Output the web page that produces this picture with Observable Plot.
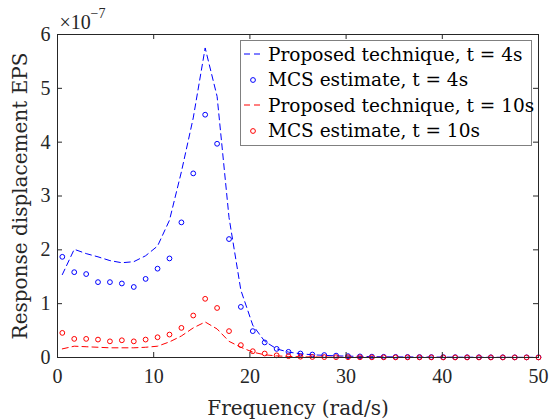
<!DOCTYPE html>
<html><head><meta charset="utf-8">
<script src="https://cdn.jsdelivr.net/npm/d3@7"></script>
<script src="https://cdn.jsdelivr.net/npm/@observablehq/plot@0.6"></script>
<style>
body{margin:0;background:#fff;}
#wrap{position:relative;width:549px;height:420px;}
#legend{position:absolute;left:240px;top:40px;width:292px;height:106px;border:1.5px solid #808080;background:#fff;box-sizing:border-box;}
.row{position:absolute;left:0;height:24px;display:flex;align-items:center;color:#000;white-space:nowrap;}
.row svg{margin-left:2px;margin-right:5px;}
</style></head><body><div id="wrap"><div id="legend"></div></div>
<script>
// Frequency (rad/s)
const freq = [0.5,1.74,2.98,4.21,5.45,6.69,7.93,9.16,10.4,11.64,12.88,14.11,15.35,16.59,17.83,19.06,20.3,21.54,22.78,24.01,25.25,26.49,27.73,28.96,30.2,31.44,32.68,33.91,35.15,36.39,37.63,38.86,40.1,41.34,42.58,43.81,45.05,46.29,47.53,48.76,50];
// values in units of 1e-7
const proposed4 = [1.54,2.01,1.93,1.87,1.80,1.76,1.78,1.89,2.07,2.55,3.45,4.45,5.75,4.85,2.6,1.25,0.6,0.3,0.16,0.1,0.07,0.05,0.04,0.03,0.025,0.02,0.016,0.013,0.011,0.01,0.009,0.008,0.007,0.006,0.005,0.005,0.004,0.004,0.003,0.003,0.003];
const mcs4 = [1.87,1.585,1.55,1.40,1.40,1.375,1.31,1.46,1.65,1.84,2.51,3.42,4.51,3.97,2.20,0.94,0.49,0.28,0.16,0.105,0.074,0.055,0.045,0.035,0.025,0.02,0.016,0.013,0.011,0.01,0.009,0.008,0.007,0.006,0.005,0.005,0.004,0.004,0.003,0.003,0.003];
const proposed10 = [0.16,0.21,0.2,0.19,0.18,0.18,0.18,0.19,0.21,0.29,0.4,0.55,0.66,0.53,0.3,0.19,0.1,0.05,0.03,0.02,0.013,0.01,0.008,0.006,0.005,0.004,0.003,0.003,0.002,0.002,0.002,0.002,0.001,0.001,0.001,0.001,0.001,0.001,0.001,0.001,0.001];
const mcs10 = [0.457,0.346,0.346,0.333,0.30,0.32,0.30,0.333,0.376,0.426,0.55,0.78,1.09,0.92,0.49,0.23,0.117,0.074,0.04,0.025,0.015,0.01,0.008,0.006,0.005,0.004,0.003,0.003,0.002,0.002,0.002,0.002,0.001,0.001,0.001,0.001,0.001,0.001,0.001,0.001,0.001];
const xTicks = [0,10,20,30,40,50];
const yTicks = [0,1,2,3,4,5,6];
const seriesNames = ["Proposed technique, t = 4s","MCS estimate, t = 4s","Proposed technique, t = 10s","MCS estimate, t = 10s"];
const blue = "#0000ff", red = "#ff0000", axisColor = "#262626";
const tickFont = '"Liberation Serif", "Times New Roman", Times, serif';
const labelFont = '"DejaVu Serif"';

const rows = (ys) => freq.map((f,i) => ({f, v: ys[i]}));
const innerH = 420 - 34 - 63;
const innerW = 549 - 57 - 11;

const chart = Plot.plot({
  width: 549, height: 420,
  marginLeft: 57, marginRight: 11, marginTop: 34, marginBottom: 63,
  style: {fontSize: "20px", color: axisColor, background: "white", overflow: "visible"},
  x: {domain: [0, 50]},
  y: {domain: [0, 6]},
  marks: [
    Plot.line(rows(proposed4), {x: "f", y: "v", stroke: blue, strokeWidth: 1, strokeDasharray: "6,4"}),
    Plot.dot(rows(mcs4), {x: "f", y: "v", stroke: blue, r: 2.4, strokeWidth: 1}),
    Plot.line(rows(proposed10), {x: "f", y: "v", stroke: red, strokeWidth: 1, strokeDasharray: "6,4"}),
    Plot.dot(rows(mcs10), {x: "f", y: "v", stroke: red, r: 2.4, strokeWidth: 1}),
    Plot.ruleX(xTicks, {x: d => d, insetTop: innerH - 5, stroke: axisColor}),
    Plot.ruleX(xTicks, {x: d => d, insetBottom: innerH - 5, stroke: axisColor}),
    Plot.ruleY(yTicks, {y: d => d, insetRight: innerW - 5, stroke: axisColor}),
    Plot.ruleY(yTicks, {y: d => d, insetLeft: innerW - 5, stroke: axisColor}),
    Plot.frame({stroke: axisColor, strokeWidth: 1}),
    Plot.axisX(xTicks, {anchor: "bottom", tickSize: 0, tickPadding: 11, tickFormat: d => String(d), label: null}),
    Plot.axisX({anchor: "bottom", ticks: [], label: "Frequency (rad/s)", labelAnchor: "center", labelArrow: "none", labelOffset: 57, fontSize: 20}),
    Plot.axisY(yTicks, {anchor: "left", tickSize: 0, tickPadding: 7, tickFormat: d => String(d), label: null}),
    Plot.axisY({anchor: "left", ticks: [], label: "Response displacement EPS", labelAnchor: "center", labelArrow: "none", labelOffset: 45, fontSize: 20}),
    Plot.text(["×10"], {frameAnchor: "top-left", textAnchor: "start", lineAnchor: "bottom", dx: 2, dy: -6, fontSize: 20, fill: axisColor}),
    Plot.text(["−7"], {frameAnchor: "top-left", textAnchor: "start", lineAnchor: "bottom", dx: 33, dy: -17, fontSize: 14, fill: axisColor})
  ]
});
document.getElementById("wrap").prepend(chart);
// enforce fonts inline on each text element
chart.querySelectorAll("text").forEach(t => {
  const g = t.closest("g[aria-label]");
  const lab = g ? g.getAttribute("aria-label") : "";
  const f = /axis label/.test(lab) ? labelFont : tickFont;
  t.style.setProperty("font-family", f, "important");
});

// legend
const legend = document.getElementById("legend");
const styles = [
  {color: blue, type: "line"}, {color: blue, type: "dot"},
  {color: red, type: "line"}, {color: red, type: "dot"}
];
seriesNames.forEach((name, i) => {
  const row = document.createElement("div");
  row.className = "row";
  row.style.top = (1 + i * 25.5) + "px";
  const s = styles[i];
  const sym = s.type === "line"
    ? `<svg width="20" height="10"><line x1="1" y1="5" x2="19" y2="5" stroke="${s.color}" stroke-width="1.2" stroke-dasharray="6,4"/></svg>`
    : `<svg width="20" height="10"><circle cx="10" cy="5" r="2.4" fill="none" stroke="${s.color}" stroke-width="1"/></svg>`;
  const span = document.createElement("span");
  span.textContent = name;
  span.style.setProperty("font-family", labelFont, "important");
  span.style.fontSize = "18.5px";
  row.innerHTML = sym;
  row.appendChild(span);
  legend.appendChild(row);
});
</script>
</body></html>
